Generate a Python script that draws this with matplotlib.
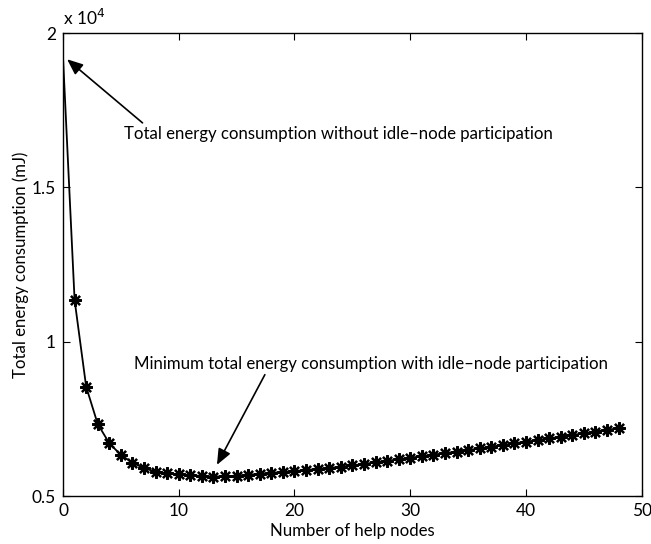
import numpy as np
import matplotlib
matplotlib.use("Agg")
import matplotlib.pyplot as plt

# number of help nodes 0..48
help_nodes = list(range(0, 49))

# total energy consumption, in units of 1e4 mJ
energy_1e4 = [1.920, 1.135, 0.854, 0.733, 0.671, 0.633, 0.608, 0.590, 0.579, 0.573,
              0.570, 0.567, 0.565, 0.563, 0.564, 0.566, 0.569, 0.572, 0.575, 0.578,
              0.581, 0.584, 0.588, 0.591, 0.595, 0.599, 0.604, 0.609, 0.614, 0.619,
              0.624, 0.629, 0.634, 0.639, 0.644, 0.649, 0.654, 0.660, 0.665, 0.671,
              0.676, 0.681, 0.687, 0.692, 0.698, 0.703, 0.709, 0.714, 0.720]

x_ticks = [0, 10, 20, 30, 40, 50]
y_ticks = [0.5, 1, 1.5, 2]

FS = 12.1
plt.rcParams['font.family'] = ['Lato', 'DejaVu Sans']

fig = plt.figure(figsize=(6.51, 5.44), dpi=100)
ax = fig.add_axes([0.0968, 0.0882, 0.8889, 0.8511])

# line through all points, stars from x=1 on (the x=0 point sits on the axis)
ax.plot(help_nodes, energy_1e4, color='black', linewidth=1.3,
        marker=(8, 2, 0), markersize=9, markeredgewidth=1.6,
        markevery=list(range(1, len(help_nodes))))

ax.set_xlim(0, 50)
ax.set_ylim(0.5, 2)
ax.set_xticks(x_ticks)
ax.set_yticks(y_ticks)
ax.set_yticklabels(['0.5', '1', '1.5', '2'])
ax.tick_params(direction='in', top=True, right=True, length=5, width=0.8,
               labelsize=FS + 0.4, pad=5)
for s in ax.spines.values():
    s.set_linewidth(1.0)

ax.set_xlabel("Number of help nodes", fontsize=FS, labelpad=3)
ax.set_ylabel("Total energy consumption (mJ)", fontsize=FS, labelpad=2)
ax.text(0.0, 1.01, "x 10$^4$", transform=ax.transAxes, fontsize=FS + 0.4,
        ha='left', va='bottom')

ax.annotate("Total energy consumption without idle\u2013node participation",
            xy=(0.35, 1.915), xytext=(5.3, 1.674), fontsize=FS,
            ha='left', va='center',
            arrowprops=dict(arrowstyle='-|>,head_length=0.6,head_width=0.25',
                            color='black', lw=1.2,
                            mutation_scale=16, shrinkA=0, shrinkB=0,
                            relpos=(0.05, 1.0)))
ax.annotate("Minimum total energy consumption with idle\u2013node participation",
            xy=(13.3, 0.601), xytext=(6.1, 0.928), fontsize=FS,
            ha='left', va='center',
            arrowprops=dict(arrowstyle='-|>,head_length=0.6,head_width=0.25',
                            color='black', lw=1.2,
                            mutation_scale=16, shrinkA=0, shrinkB=0,
                            relpos=(0.28, 0.0)))

fig.savefig("out.png", dpi=100)
